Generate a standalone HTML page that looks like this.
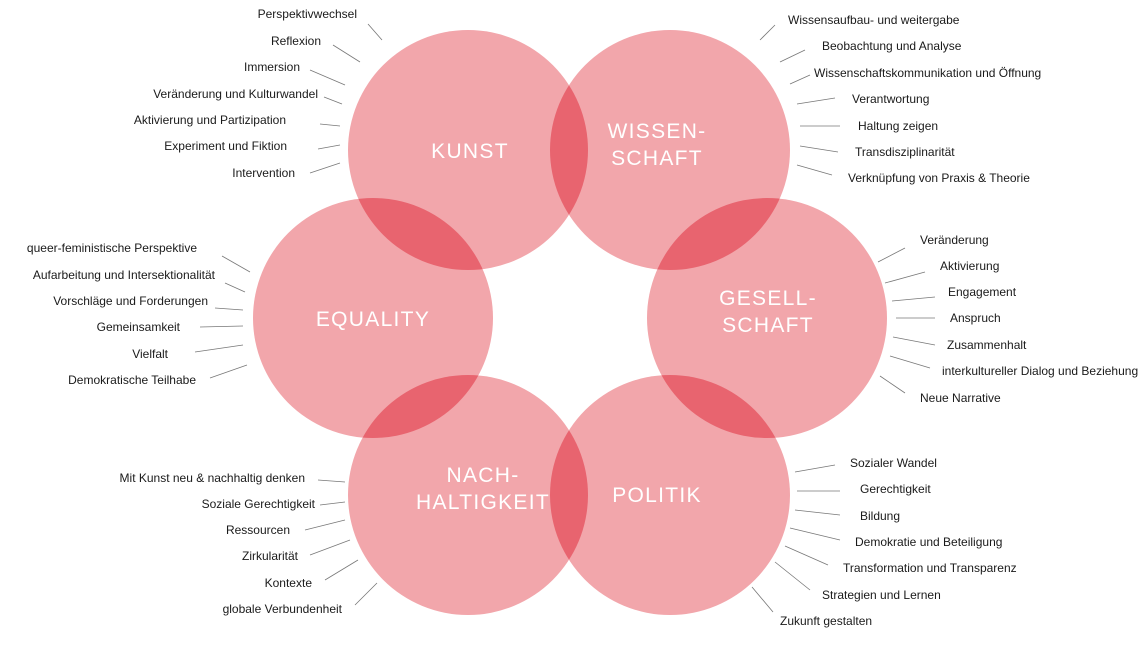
<!DOCTYPE html>
<html><head><meta charset="utf-8"><style>
html,body{margin:0;padding:0;background:#fff;}
svg{display:block}
.l{font-family:"Liberation Sans",sans-serif;font-size:12px;fill:#1a1a1a}
.c{font-family:"Liberation Sans",sans-serif;font-size:21px;fill:#fff;letter-spacing:1.3px}
line{stroke:#777;stroke-width:0.8}
</style></head><body>
<svg width="1140" height="645" viewBox="0 0 1140 645">
<defs>
<clipPath id="K"><circle cx="468" cy="150" r="120"/></clipPath>
<clipPath id="W"><circle cx="670" cy="150" r="120"/></clipPath>
<clipPath id="G"><circle cx="767" cy="318" r="120"/></clipPath>
<clipPath id="P"><circle cx="670" cy="495" r="120"/></clipPath>
<clipPath id="N"><circle cx="468" cy="495" r="120"/></clipPath>
<clipPath id="E"><circle cx="373" cy="318" r="120"/></clipPath>
</defs>
<g fill="#f2a6ab">
<circle cx="468" cy="150" r="120"/><circle cx="670" cy="150" r="120"/><circle cx="767" cy="318" r="120"/>
<circle cx="670" cy="495" r="120"/><circle cx="468" cy="495" r="120"/><circle cx="373" cy="318" r="120"/>
</g>
<g fill="#e8646f">
<circle cx="670" cy="150" r="120" clip-path="url(#K)"/>
<circle cx="767" cy="318" r="120" clip-path="url(#W)"/>
<circle cx="670" cy="495" r="120" clip-path="url(#G)"/>
<circle cx="468" cy="495" r="120" clip-path="url(#P)"/>
<circle cx="373" cy="318" r="120" clip-path="url(#N)"/>
<circle cx="468" cy="150" r="120" clip-path="url(#E)"/>
</g>
<text class="c" x="470" y="158" text-anchor="middle">KUNST</text>
<text class="c" x="657" y="138" text-anchor="middle">WISSEN-</text>
<text class="c" x="657" y="165" text-anchor="middle">SCHAFT</text>
<text class="c" x="768" y="305" text-anchor="middle">GESELL-</text>
<text class="c" x="768" y="332" text-anchor="middle">SCHAFT</text>
<text class="c" x="373" y="326" text-anchor="middle">EQUALITY</text>
<text class="c" x="657" y="502" text-anchor="middle">POLITIK</text>
<text class="c" x="483" y="482" text-anchor="middle">NACH-</text>
<text class="c" x="483" y="509" text-anchor="middle">HALTIGKEIT</text>
<g class="l" text-anchor="end">
<text x="357" y="18">Perspektivwechsel</text>
<text x="321" y="45">Reflexion</text>
<text x="300" y="71">Immersion</text>
<text x="318" y="98">Veränderung und Kulturwandel</text>
<text x="286" y="124">Aktivierung und Partizipation</text>
<text x="287" y="150">Experiment und Fiktion</text>
<text x="295" y="177">Intervention</text>
<text x="197" y="252">queer-feministische Perspektive</text>
<text x="215" y="279">Aufarbeitung und Intersektionalität</text>
<text x="208" y="305">Vorschläge und Forderungen</text>
<text x="180" y="331">Gemeinsamkeit</text>
<text x="168" y="358">Vielfalt</text>
<text x="196" y="384">Demokratische Teilhabe</text>
<text x="305" y="482">Mit Kunst neu &amp; nachhaltig denken</text>
<text x="315" y="508">Soziale Gerechtigkeit</text>
<text x="290" y="534">Ressourcen</text>
<text x="298" y="560">Zirkularität</text>
<text x="312" y="587">Kontexte</text>
<text x="342" y="613">globale Verbundenheit</text>
</g>
<g class="l">
<text x="788" y="24">Wissensaufbau- und weitergabe</text>
<text x="822" y="50">Beobachtung und Analyse</text>
<text x="814" y="77">Wissenschaftskommunikation und Öffnung</text>
<text x="852" y="103">Verantwortung</text>
<text x="858" y="130">Haltung zeigen</text>
<text x="855" y="156">Transdisziplinarität</text>
<text x="848" y="182">Verknüpfung von Praxis &amp; Theorie</text>
<text x="920" y="244">Veränderung</text>
<text x="940" y="270">Aktivierung</text>
<text x="948" y="296">Engagement</text>
<text x="950" y="322">Anspruch</text>
<text x="947" y="349">Zusammenhalt</text>
<text x="942" y="375">interkultureller Dialog und Beziehung</text>
<text x="920" y="402">Neue Narrative</text>
<text x="850" y="467">Sozialer Wandel</text>
<text x="860" y="493">Gerechtigkeit</text>
<text x="860" y="520">Bildung</text>
<text x="855" y="546">Demokratie und Beteiligung</text>
<text x="843" y="572">Transformation und Transparenz</text>
<text x="822" y="599">Strategien und Lernen</text>
<text x="780" y="625">Zukunft gestalten</text>
</g>
<g>
<line x1="368" y1="24" x2="382" y2="40"/><line x1="333" y1="45" x2="360" y2="62"/>
<line x1="310" y1="70" x2="345" y2="85"/><line x1="324" y1="97" x2="342" y2="104"/>
<line x1="320" y1="124" x2="340" y2="126"/><line x1="318" y1="149" x2="340" y2="145"/>
<line x1="310" y1="173" x2="340" y2="163"/>
<line x1="760" y1="40" x2="775" y2="25"/><line x1="780" y1="62" x2="805" y2="50"/>
<line x1="790" y1="84" x2="810" y2="75"/><line x1="797" y1="104" x2="835" y2="98"/>
<line x1="800" y1="126" x2="840" y2="126"/><line x1="800" y1="146" x2="838" y2="152"/>
<line x1="797" y1="165" x2="832" y2="175"/>
<line x1="878" y1="262" x2="905" y2="248"/><line x1="885" y1="283" x2="925" y2="272"/>
<line x1="892" y1="301" x2="935" y2="297"/><line x1="896" y1="318" x2="935" y2="318"/>
<line x1="893" y1="337" x2="935" y2="345"/><line x1="890" y1="356" x2="930" y2="368"/>
<line x1="880" y1="376" x2="905" y2="393"/>
<line x1="222" y1="256" x2="250" y2="272"/><line x1="225" y1="283" x2="245" y2="292"/>
<line x1="215" y1="308" x2="243" y2="310"/><line x1="200" y1="327" x2="243" y2="326"/>
<line x1="195" y1="352" x2="243" y2="345"/><line x1="210" y1="378" x2="247" y2="365"/>
<line x1="795" y1="472" x2="835" y2="465"/><line x1="797" y1="491" x2="840" y2="491"/>
<line x1="795" y1="510" x2="840" y2="515"/><line x1="790" y1="528" x2="840" y2="540"/>
<line x1="785" y1="546" x2="828" y2="565"/><line x1="775" y1="562" x2="810" y2="590"/>
<line x1="752" y1="587" x2="773" y2="612"/>
<line x1="318" y1="480" x2="345" y2="482"/><line x1="320" y1="505" x2="345" y2="502"/>
<line x1="305" y1="530" x2="345" y2="520"/><line x1="310" y1="555" x2="350" y2="540"/>
<line x1="325" y1="580" x2="358" y2="560"/><line x1="355" y1="605" x2="377" y2="583"/>
</g>
</svg>
</body></html>
